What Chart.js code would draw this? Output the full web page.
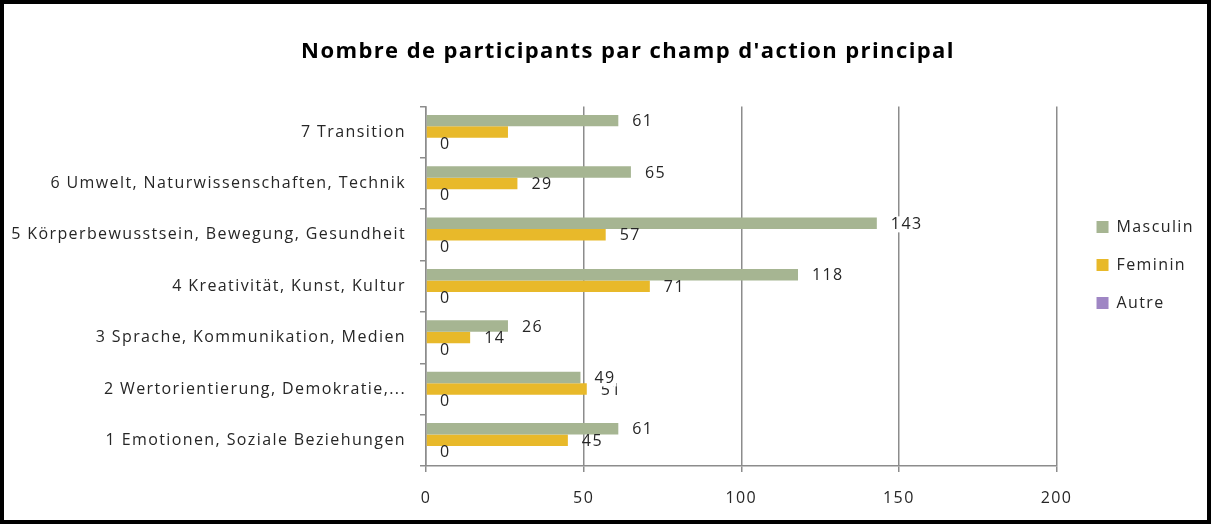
<!DOCTYPE html>
<html lang="fr">
  <head>
    <meta charset="UTF-8" />
    <title>Nombre de participants par champ d'action principal</title>
    <style>
      body{
        margin: 0;
        background: #fff;
      }
      .frame{
        width: 1211px;
        height: 524px;
        border: 4px solid #000;
        box-sizing: border-box;
      }
      canvas{
        display: block;
      }
    </style>
  </head>
  <body>
    <div class="frame">
      <canvas id="chart" width="1203" height="516"></canvas>
    </div>
    <script src="https://cdn.jsdelivr.net/npm/chart.js"></script>
    <script>
      const categories = [
        "1 Emotionen, Soziale Beziehungen",
        "2 Wertorientierung, Demokratie,...",
        "3 Sprache, Kommunikation, Medien",
        "4 Kreativität, Kunst, Kultur",
        "5 Körperbewusstsein, Bewegung, Gesundheit",
        "6 Umwelt, Naturwissenschaften, Technik",
        "7 Transition"
      ];
      const masculin = [61, 49, 26, 118, 143, 65, 61];
      const feminin = [45, 51, 14, 71, 57, 29, 26];
      const autre = [0, 0, 0, 0, 0, 0, 0];
      // the label of the last feminin bar is not shown in the original
      const femininShowLabel = [true, true, true, true, true, true, false];
      const xTicks = [0, 50, 100, 150, 200];

      const font = "'Open Sans', 'Noto Sans', sans-serif";
      const textColor = "#262626";
      const gridColor = "#8c8c8c";

      // the original text is rendered with wide letter spacing
      // (set again before layout and draw, resizing the canvas resets it)
      const spacing = {
        id: "spacing",
        beforeUpdate(chart) {
          chart.ctx.letterSpacing = "1.4px";
        },
        beforeLayout(chart) {
          chart.ctx.letterSpacing = "1.4px";
        },
        beforeDraw(chart) {
          chart.ctx.letterSpacing = "1.4px";
        }
      };

      // draws the value next to the end of every bar
      const barLabels = {
        id: "barLabels",
        afterDatasetsDraw(chart) {
          const ctx = chart.ctx;
          ctx.save();
          ctx.font = "16px " + font;
          ctx.textBaseline = "middle";
          ctx.textAlign = "left";
          [2, 1, 0].forEach(di => {
            const meta = chart.getDatasetMeta(di);
            const values = chart.data.datasets[di].data;
            meta.data.forEach((bar, i) => {
              if (di === 1 && !femininShowLabel[i]) return;
              const text = String(values[i]);
              const x = bar.x + 14;
              const y = bar.y + 1;
              if (di === 0) {
                const w = ctx.measureText(text).width;
                ctx.fillStyle = "#fff";
                ctx.fillRect(x - 1, y - 8, w + 2, 16);
              }
              ctx.fillStyle = textColor;
              ctx.fillText(text, x, y);
            });
          });
          ctx.restore();
        }
      };

      // the original centres the title over the plot, and keeps the legend
      // a bit away from it
      const placeBlocks = {
        id: "placeBlocks",
        afterLayout(chart) {
          chart.titleBlock.left += 33;
          chart.titleBlock.right += 33;
          chart.legend.left += 18;
          chart.legend.right += 18;
          chart.legend.top += 3;
          chart.legend.bottom += 3;
        }
      };

      new Chart(document.getElementById("chart"), {
        type: "bar",
        data: {
          labels: categories,
          datasets: [
            { label: "Masculin", data: masculin, backgroundColor: "#a6b592" },
            { label: "Feminin", data: feminin, backgroundColor: "#e8b92a" },
            { label: "Autre", data: autre, backgroundColor: "#9f86c4" }
          ]
        },
        options: {
          indexAxis: "y",
          responsive: false,
          animation: false,
          events: [],
          categoryPercentage: 0.67,
          barPercentage: 1,
          layout: {
            padding: { top: 0, right: 21, bottom: 0, left: 0 }
          },
          scales: {
            x: {
              min: 0,
              max: 200,
              afterBuildTicks(scale) {
                scale.ticks = xTicks.map(v => ({ value: v }));
              },
              afterFit(scale) {
                scale.height = 54;
              },
              grid: {
                color: gridColor,
                lineWidth: 1.5,
                tickLength: 6
              },
              border: { color: gridColor, width: 1.5 },
              ticks: {
                color: textColor,
                padding: 17,
                font: { family: font, size: 16 }
              }
            },
            y: {
              reverse: true,
              afterFit(scale) {
                scale.width = 422;
              },
              grid: {
                drawOnChartArea: false,
                color: gridColor,
                lineWidth: 1.5,
                tickLength: 6
              },
              border: { color: gridColor, width: 1.5 },
              ticks: {
                color: textColor,
                padding: 14,
                font: { family: font, size: 16 }
              }
            }
          },
          plugins: {
            title: {
              display: true,
              text: "Nombre de participants par champ d'action principal",
              color: "#000",
              font: { family: font, size: 22, weight: "bold" },
              padding: { top: 35, bottom: 41 }
            },
            legend: {
              position: "right",
              labels: {
                boxWidth: 12,
                boxHeight: 12,
                padding: 22,
                color: textColor,
                font: { family: font, size: 16 }
              }
            },
            tooltip: { enabled: false }
          }
        },
        plugins: [spacing, barLabels, placeBlocks]
      });
    </script>
  </body>
</html>
